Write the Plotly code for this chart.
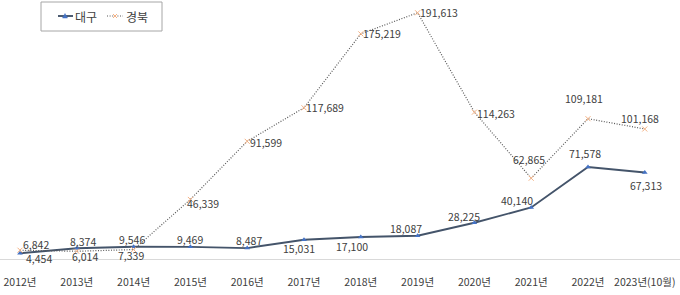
import plotly.graph_objects as go

years = ["2012년", "2013년", "2014년", "2015년", "2016년", "2017년", "2018년", "2019년",
         "2020년", "2021년", "2022년", "2023년(10월)"]
daegu = [4454, 8374, 9546, 9469, 8487, 15031, 17100, 18087, 28225, 40140, 71578, 67313]
gyeongbuk = [6842, 6014, 7339, 46339, 91599, 117689, 175219, 191613, 114263, 62865, 109181, 101168]
series_names = ["대구", "경북"]

# label offsets in pixels (xshift, yshift) relative to each point
daegu_off = [(19, -5), (6, 7), (-2, 7.5), (0, 7.5), (2, 8), (-5, -8.5), (-8.5, -9), (-12, 7),
             (-10, 6), (-14, 7), (-3, 14), (1, -12.5)]
gb_off = [(16, 6), (8, -5), (-3, -6), (13, -4), (19, -1), (21, 0), (21.5, 0), (21.7, 0),
          (21.3, -1), (-2, 19), (-3.5, 20.5), (-5, 11)]

FONT = "Noto Sans CJK KR, Malgun Gothic, sans-serif"
TXT = "#404040"
DG_LINE = "#44546A"
DG_MARK = "#4472C4"
GB_LINE = "#595959"
GB_MARK = "#F4B183"
DOT = "1px,1.6px"
LBL_SIZE = 10.5

xs = list(range(len(years)))

fig = go.Figure()
fig.add_trace(go.Scatter(
    x=xs, y=daegu, name=series_names[0], mode="lines+markers",
    line=dict(color=DG_LINE, width=1.9),
    marker=dict(symbol="triangle-up", size=5, color=DG_MARK),
    cliponaxis=False,
))
fig.add_trace(go.Scatter(
    x=xs, y=gyeongbuk, name=series_names[1], mode="lines+markers",
    line=dict(color=GB_LINE, width=1.2, dash=DOT),
    marker=dict(symbol="x-thin", size=5, color=GB_MARK, line=dict(color=GB_MARK, width=1)),
    cliponaxis=False,
))

annotations = []
for vals, offs in ((daegu, daegu_off), (gyeongbuk, gb_off)):
    for i, (v, (dx, dy)) in enumerate(zip(vals, offs)):
        annotations.append(dict(
            x=i, y=v, xref="x", yref="y", text=f"{v:,}", showarrow=False,
            xanchor="center", yanchor="middle", xshift=dx, yshift=dy,
            font=dict(family=FONT, size=LBL_SIZE, color=TXT)))

# manual legend (pixel -> paper coordinates)
W, TOP, BOT = 680.0, 2.0, 259.0
def px(x):
    return x / W
def py(y):
    return (BOT - y) / (BOT - TOP)

shapes = [
    dict(type="rect", xref="paper", yref="paper", x0=px(41), x1=px(162), y0=py(31), y1=py(2),
         line=dict(color="#A6A6A6", width=1), fillcolor="white", layer="above"),
    dict(type="line", xref="paper", yref="paper", x0=px(58), x1=px(73), y0=py(16), y1=py(16),
         line=dict(color=DG_LINE, width=1.9), layer="above"),
    dict(type="path", xref="paper", yref="paper",
         path=f"M {px(62.5)} {py(18)} L {px(67.5)} {py(18)} L {px(65)} {py(13.5)} Z",
         line=dict(color=DG_MARK, width=0.5), fillcolor=DG_MARK, layer="above"),
    dict(type="line", xref="paper", yref="paper", x0=px(107), x1=px(123), y0=py(16), y1=py(16),
         line=dict(color=GB_LINE, width=1.2, dash=DOT), layer="above"),
    dict(type="line", xref="paper", yref="paper", x0=px(113), x1=px(117), y0=py(14), y1=py(18),
         line=dict(color=GB_MARK, width=1), layer="above"),
    dict(type="line", xref="paper", yref="paper", x0=px(113), x1=px(117), y0=py(18), y1=py(14),
         line=dict(color=GB_MARK, width=1), layer="above"),
]
annotations += [
    dict(xref="paper", yref="paper", x=px(73), y=py(16.5), text=series_names[0], showarrow=False,
         xanchor="left", yanchor="middle", font=dict(family=FONT, size=12, color=TXT)),
    dict(xref="paper", yref="paper", x=px(124), y=py(16.5), text=series_names[1], showarrow=False,
         xanchor="left", yanchor="middle", font=dict(family=FONT, size=12, color=TXT)),
]

fig.update_layout(
    width=680, height=295,
    margin=dict(l=0, r=0, t=2, b=36),
    paper_bgcolor="white", plot_bgcolor="white",
    font=dict(family=FONT, size=11, color=TXT),
    showlegend=False,
    shapes=shapes, annotations=annotations,
    xaxis=dict(range=[-0.352, 11.62], tickmode="array", tickvals=xs,
               ticktext=years, showgrid=False, zeroline=False, showline=True,
               linecolor="#D9D9D9", linewidth=1, ticks="", ticklabelstandoff=13,
               tickfont=dict(family=FONT, size=10.5, color=TXT)),
    yaxis=dict(range=[0, 200000], visible=False, showgrid=False, zeroline=False),
)

fig.write_html("out.html")
